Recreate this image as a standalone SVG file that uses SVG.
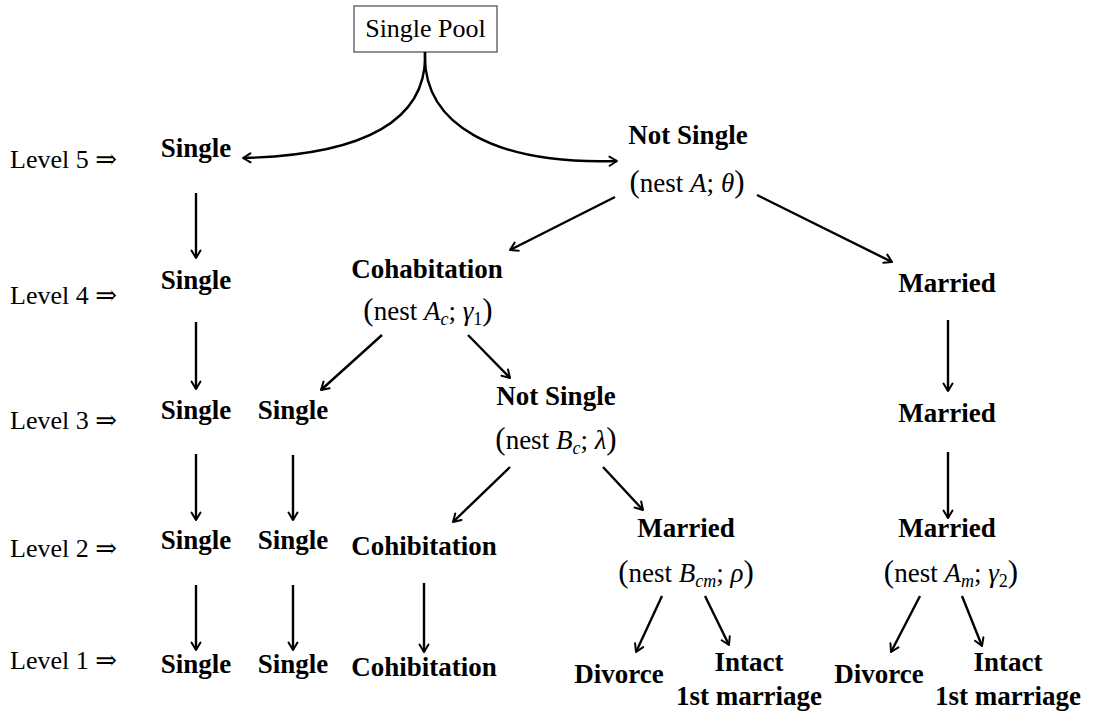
<svg xmlns="http://www.w3.org/2000/svg" width="1094" height="719" viewBox="0 0 1094 719">
  <defs>
    <marker id="head" markerUnits="userSpaceOnUse" markerWidth="16" markerHeight="16" refX="0" refY="0" viewBox="-10 -8 12 16" orient="auto" overflow="visible">
      <path d="M -7.5 -4.5 L 0 0 L -7.5 4.5" fill="none" stroke="#000" stroke-width="2" stroke-linecap="round" stroke-linejoin="round"/>
    </marker>
    <style>
      .lvl { font-family: "Liberation Serif", "DejaVu Serif", serif; font-size: 26px; fill: #000; }
      .node { font-family: "Liberation Serif", "DejaVu Serif", serif; font-size: 27px; font-weight: bold; fill: #000; text-anchor: middle; }
      .nest { font-family: "Liberation Serif", "DejaVu Serif", serif; font-size: 27px; fill: #000; text-anchor: middle; }
      .par { font-size: 31px; }
      .it { font-style: italic; }
      .sub { font-size: 18px; }
      .edge { fill: none; stroke: #000; stroke-width: 2.4; marker-end: url(#head); }
    </style>
  </defs>

  <rect width="1094" height="719" fill="#fff"/>

  <!-- level labels -->
  <g id="levels">
    <text class="lvl" x="10" y="168">Level 5 ⇒</text>
    <text class="lvl" x="10" y="304">Level 4 ⇒</text>
    <text class="lvl" x="10" y="429">Level 3 ⇒</text>
    <text class="lvl" x="10" y="557">Level 2 ⇒</text>
    <text class="lvl" x="10" y="669">Level 1 ⇒</text>
  </g>

  <!-- root -->
  <g id="pool">
    <rect x="354" y="6" width="143" height="46" fill="#fff" stroke="#555" stroke-width="1.3"/>
    <text x="425.5" y="37" font-family="Liberation Serif, serif" font-size="26" text-anchor="middle">Single Pool</text>
  </g>

  <!-- level 5 -->
  <g id="l5-single"><text class="node" x="196" y="157">Single</text></g>
  <g id="l5-notsingle">
    <text class="node" x="688" y="144">Not Single</text>
    <text class="nest" x="687" y="192"><tspan class="par">(</tspan>nest <tspan class="it">A</tspan>; <tspan class="it">θ</tspan><tspan class="par">)</tspan></text>
  </g>

  <!-- level 4 -->
  <g id="l4-single"><text class="node" x="196" y="289">Single</text></g>
  <g id="l4-cohab">
    <text class="node" x="427" y="278">Cohabitation</text>
    <text class="nest" x="428" y="320"><tspan class="par">(</tspan>nest <tspan class="it">A</tspan><tspan class="it sub" dy="5">c</tspan><tspan dy="-5">; </tspan><tspan class="it">γ</tspan><tspan class="sub" dy="5">1</tspan><tspan class="par" dy="-5">)</tspan></text>
  </g>
  <g id="l4-married"><text class="node" x="947" y="292">Married</text></g>

  <!-- level 3 -->
  <g id="l3-single-a"><text class="node" x="196" y="419">Single</text></g>
  <g id="l3-single-b"><text class="node" x="293" y="419">Single</text></g>
  <g id="l3-notsingle">
    <text class="node" x="556" y="405">Not Single</text>
    <text class="nest" x="556" y="449"><tspan class="par">(</tspan>nest <tspan class="it">B</tspan><tspan class="it sub" dy="5">c</tspan><tspan dy="-5">; </tspan><tspan class="it">λ</tspan><tspan class="par">)</tspan></text>
  </g>
  <g id="l3-married"><text class="node" x="947" y="422">Married</text></g>

  <!-- level 2 -->
  <g id="l2-single-a"><text class="node" x="196" y="549">Single</text></g>
  <g id="l2-single-b"><text class="node" x="293" y="549">Single</text></g>
  <g id="l2-cohib"><text class="node" x="424" y="555">Cohibitation</text></g>
  <g id="l2-married-c">
    <text class="node" x="686" y="537">Married</text>
    <text class="nest" x="686" y="582"><tspan class="par">(</tspan>nest <tspan class="it">B</tspan><tspan class="it sub" dy="5">cm</tspan><tspan dy="-5">; </tspan><tspan class="it">ρ</tspan><tspan class="par">)</tspan></text>
  </g>
  <g id="l2-married-m">
    <text class="node" x="947" y="537">Married</text>
    <text class="nest" x="951" y="582"><tspan class="par">(</tspan>nest <tspan class="it">A</tspan><tspan class="it sub" dy="5">m</tspan><tspan dy="-5">; </tspan><tspan class="it">γ</tspan><tspan class="sub" dy="5">2</tspan><tspan class="par" dy="-5">)</tspan></text>
  </g>

  <!-- level 1 -->
  <g id="l1-single-a"><text class="node" x="196" y="673">Single</text></g>
  <g id="l1-single-b"><text class="node" x="293" y="673">Single</text></g>
  <g id="l1-cohib"><text class="node" x="424" y="676">Cohibitation</text></g>
  <g id="l1-divorce-c"><text class="node" x="619" y="683">Divorce</text></g>
  <g id="l1-intact-c">
    <text class="node" x="749" y="671">Intact</text>
    <text class="node" x="749" y="705">1st marriage</text>
  </g>
  <g id="l1-divorce-m"><text class="node" x="879" y="683">Divorce</text></g>
  <g id="l1-intact-m">
    <text class="node" x="1008" y="671">Intact</text>
    <text class="node" x="1008" y="705">1st marriage</text>
  </g>

  <!-- connectors -->
  <g id="connectors">
    <path class="edge" d="M 425 52 C 428 120 365 155 243 158"/>
    <path class="edge" d="M 425 52 C 422 125 495 165 617 161"/>

    <path class="edge" d="M 196 193 L 196 258"/>
    <path class="edge" d="M 196 322 L 196 389"/>
    <path class="edge" d="M 196 454 L 196 520"/>
    <path class="edge" d="M 196 585 L 196 650"/>
    <path class="edge" d="M 293 455 L 293 520"/>
    <path class="edge" d="M 293 585 L 293 650"/>

    <path class="edge" d="M 615 197 L 510 250"/>
    <path class="edge" d="M 757 195 L 892 262"/>

    <path class="edge" d="M 382 335 L 321 390"/>
    <path class="edge" d="M 468 335 L 510 378"/>

    <path class="edge" d="M 510 467 L 453 522"/>
    <path class="edge" d="M 603 467 L 643 510"/>

    <path class="edge" d="M 948 320 L 948 391"/>
    <path class="edge" d="M 948 452 L 948 518"/>

    <path class="edge" d="M 424 583 L 424 652"/>

    <path class="edge" d="M 662 596 L 636 652"/>
    <path class="edge" d="M 705 596 L 729 645"/>
    <path class="edge" d="M 920 596 L 891 652"/>
    <path class="edge" d="M 962 596 L 982 646"/>
  </g>
</svg>
